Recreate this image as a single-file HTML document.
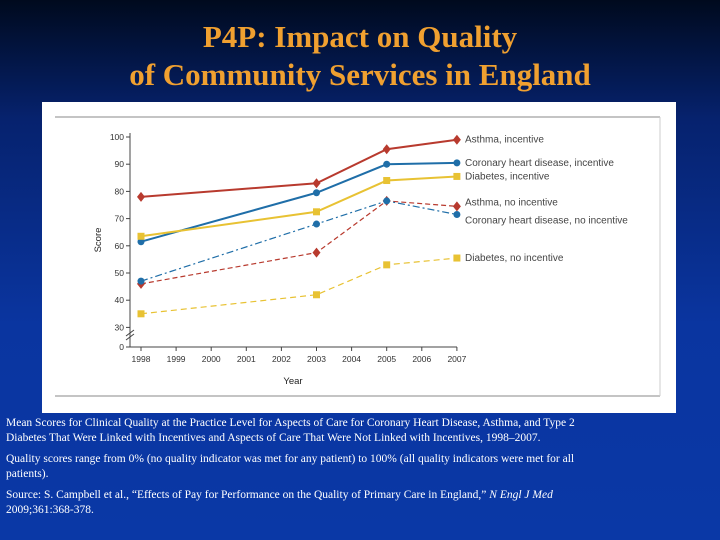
<!DOCTYPE html>
<html><head><meta charset="utf-8"><style>
body{margin:0;width:720px;height:540px;overflow:hidden;background:linear-gradient(180deg,#000a1e 0%,#06226e 22%,#0a35a0 60%,#0a38a6 100%);font-family:"Liberation Serif",serif;position:relative}
#title{position:absolute;left:0;top:18px;width:720px;text-align:center;color:#f0a030;font-size:31px;font-weight:bold;line-height:38px}
#box{position:absolute;left:42px;top:102px;width:634px;height:311px;background:#fff}
.cap{position:absolute;left:6px;color:#fff;font-size:11.5px;line-height:15px;width:580px}
</style></head><body>
<div id="title">P4P: Impact on Quality<br>of Community Services in England</div>
<div id="box"></div>
<svg id="chart" width="720" height="540" style="position:absolute;left:0;top:0" font-family="Liberation Sans, sans-serif"></svg>
<div class="cap" style="top:416px">Mean Scores for Clinical Quality at the Practice Level for Aspects of Care for Coronary Heart Disease, Asthma, and Type 2 Diabetes That Were Linked with Incentives and Aspects of Care That Were Not Linked with Incentives, 1998–2007.</div>
<div class="cap" style="top:452px">Quality scores range from 0% (no quality indicator was met for any patient) to 100% (all quality indicators were met for all patients).</div>
<div class="cap" style="top:488px">Source: S. Campbell et al., “Effects of Pay for Performance on the Quality of Primary Care in England,” <i>N Engl J Med</i> 2009;361:368-378.</div>
<script>
const years=[1998,2003,2005,2007];
const yearTicks=[1998,1999,2000,2001,2002,2003,2004,2005,2006,2007];
const scoreTicks=[30,40,50,60,70,80,90,100];
const asthmaInc=[78,83,95.5,99];
const chdInc=[61.5,79.5,90,90.5];
const diabInc=[63.5,72.5,84,85.5];
const asthmaNo=[46,57.5,76.5,74.5];
const chdNo=[47,68,76.5,71.5];
const diabNo=[35,42,53,55.5];
const seriesLabels=["Asthma, incentive","Coronary heart disease, incentive","Diabetes, incentive","Asthma, no incentive","Coronary heart disease, no incentive","Diabetes, no incentive"];

const svg=document.getElementById('chart');const NS='http://www.w3.org/2000/svg';
const X=v=>141+(v-1998)*35.1;
const Y=v=>137+(100-v)*2.72;
function mk(t,a,p){const e=document.createElementNS(NS,t);for(const k in a)e.setAttribute(k,a[k]);(p||svg).appendChild(e);return e;}
let f=mk('line',{x1:55,y1:117,x2:660,y2:117,stroke:'#888','stroke-width':1});

f=mk('line',{x1:55,y1:396,x2:660,y2:396,stroke:'#888','stroke-width':1});

f=mk('line',{x1:660,y1:117,x2:660,y2:396,stroke:'#ccc','stroke-width':1});

let ax=mk('line',{x1:130,y1:133,x2:130,y2:347,stroke:'#444'});

ax=mk('line',{x1:130,y1:347,x2:457,y2:347,stroke:'#444'});

mk('path',{d:'M126,340 L134,334 M126,336 L134,330',stroke:'#444',fill:'none'});
scoreTicks.forEach(v=>{mk('line',{x1:126,y1:Y(v),x2:130,y2:Y(v),stroke:'#444'});
 const t=mk('text',{x:124,y:Y(v)+3,'text-anchor':'end','font-size':8.5,fill:'#333'});t.textContent=v;
 });
mk('line',{x1:126,y1:347,x2:130,y2:347,stroke:'#444'});
let z=mk('text',{x:124,y:350,'text-anchor':'end','font-size':8.5,fill:'#333'});z.textContent='0';
yearTicks.forEach(v=>{mk('line',{x1:X(v),y1:347,x2:X(v),y2:351,stroke:'#444'});
 const t=mk('text',{x:X(v),y:362,'text-anchor':'middle','font-size':8.5,fill:'#333'});t.textContent=v;
 });
let xt=mk('text',{x:293,y:384,'text-anchor':'middle','font-size':9.5,fill:'#222'});xt.textContent='Year';

let yt=mk('text',{x:0,y:0,'text-anchor':'middle','font-size':9.5,fill:'#222',transform:'translate(101,240) rotate(-90)'});yt.textContent='Score';

const S=[[asthmaInc,'#b83a2e','','d',0],[chdInc,'#1f6ea8','','c',0],[diabInc,'#e8c233','','s',0],
 [asthmaNo,'#b83a2e','5,3','d',0],[chdNo,'#1f6ea8','7,3,2,3','c',4],[diabNo,'#e8c233','6,4','s',0]];
const names=['asthma-incentive','chd-incentive','diabetes-incentive','asthma-no-incentive','chd-no-incentive','diabetes-no-incentive'];
const labelDy=[0,0,0,-4,0,0];
S.forEach((s,i)=>{const [vals,c,dash,m]=s;
 const g=mk('g',{});
 mk('polyline',{points:vals.map((v,j)=>X(years[j])+','+Y(v)).join(' '),fill:'none',stroke:c,'stroke-width':dash?1.2:2,'stroke-dasharray':dash},g);
 vals.forEach((v,j)=>{const x=X(years[j]),y=Y(v);let e;
  if(m==='d')e=mk('path',{d:`M${x},${y-5}L${x+4},${y}L${x},${y+5}L${x-4},${y}Z`,fill:c},g);
  else if(m==='c')e=mk('circle',{cx:x,cy:y,r:3.5,fill:c},g);
  else e=mk('rect',{x:x-3.5,y:y-3.5,width:7,height:7,fill:c},g);
  });
 const t=mk('text',{x:465,y:Y(vals[3])+3+labelDy[i]+(i===4?6:0),'font-size':10,fill:'#444'},g);t.textContent=seriesLabels[i];
 });
</script>
</body></html>
